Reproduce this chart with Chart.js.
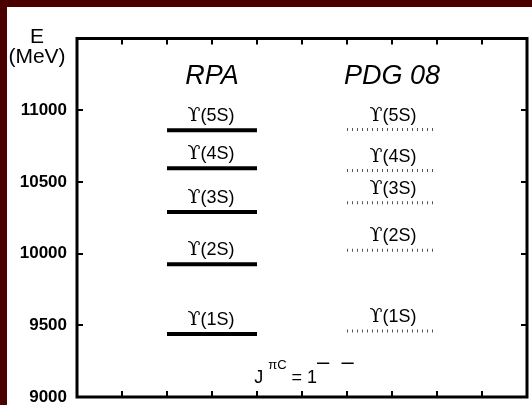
<!DOCTYPE html>
<html>
<head>
<meta charset="utf-8">
<script src="https://cdn.jsdelivr.net/npm/chart.js@4.4.1/dist/chart.umd.min.js"></script>
<style>
  html, body { margin: 0; padding: 0; width: 532px; height: 405px; overflow: hidden; background: #4b0000; }
  #wrap { position: absolute; left: 7px; top: 7px; width: 525px; height: 398px; background: #fff; }
  canvas { display: block; }
</style>
</head>
<body>
<div id="wrap"><canvas id="levels" width="525" height="398"></canvas></div>
<script>
// Upsilon (b b-bar) vector states, energies in MeV
const states = ['1S', '2S', '3S', '4S', '5S'];
const rpaMeV = [9440, 9925, 10290, 10595, 10860];
const pdgMeV = [9460, 10023, 10355, 10579, 10865];
const energyTicks = [9000, 9500, 10000, 10500, 11000];
const columnNames = ['RPA', 'PDG 08'];

const SANS = "'Liberation Sans', Arial, Helvetica, sans-serif";
const SERIF = "'DejaVu Serif', 'Liberation Serif', serif";

// each column spans two units of the x scale
const rpaSpan = [2, 4];
const pdgSpan = [6, 8];

const level = (e, span, style) => Object.assign({
  data: [{ x: span[0], y: e }, { x: span[1], y: e }],
  pointRadius: 0,
  borderCapStyle: 'butt',
  fill: false
}, style);

const datasets = [
  ...rpaMeV.map(e => level(e, rpaSpan, { borderColor: '#000', borderWidth: 4 })),
  ...pdgMeV.map(e => level(e, pdgSpan, { borderColor: '#555', borderWidth: 3, borderDash: [1, 4] }))
];

// "ϒ(nS)" with a serif upsilon and sans-serif bracket part
function upsilonLabel(ctx, cx, baseY, st) {
  const head = 'ϒ';
  const tail = '(' + st + ')';
  const fHead = '19px ' + SERIF;
  const fTail = '18px ' + SANS;
  ctx.font = fHead;
  const w1 = ctx.measureText(head).width;
  ctx.font = fTail;
  const w2 = ctx.measureText(tail).width;
  const x0 = cx - (w1 + w2) / 2;
  ctx.font = fHead;
  ctx.fillText(head, x0, baseY);
  ctx.font = fTail;
  ctx.fillText(tail, x0 + w1, baseY);
}

const decor = {
  id: 'decor',
  afterDatasetsDraw(chart) {
    const { ctx, chartArea: a, scales: { x, y } } = chart;
    ctx.save();
    ctx.fillStyle = '#000';
    ctx.strokeStyle = '#000';

    // inward ticks on all four sides
    ctx.lineWidth = 2;
    ctx.beginPath();
    for (let v = x.min + 1; v < x.max; v++) {
      const px = Math.round(x.getPixelForValue(v));
      ctx.moveTo(px, a.top); ctx.lineTo(px, a.top + 6);
      ctx.moveTo(px, a.bottom); ctx.lineTo(px, a.bottom - 6);
    }
    energyTicks.forEach(v => {
      const py = Math.round(y.getPixelForValue(v));
      ctx.moveTo(a.left, py); ctx.lineTo(a.left + 6, py);
      ctx.moveTo(a.right, py); ctx.lineTo(a.right - 6, py);
    });
    ctx.stroke();

    // frame
    ctx.lineWidth = 3;
    ctx.strokeRect(a.left, a.top, a.width, a.height);

    // column headings
    ctx.textAlign = 'left';
    ctx.textBaseline = 'alphabetic';
    ctx.font = 'italic 27px ' + SANS;
    [rpaSpan, pdgSpan].forEach((span, i) => {
      const cx = x.getPixelForValue((span[0] + span[1]) / 2);
      const w = ctx.measureText(columnNames[i]).width;
      ctx.fillText(columnNames[i], cx - w / 2, a.top + 45);
    });

    // state labels above each level
    states.forEach((st, i) => {
      upsilonLabel(ctx, x.getPixelForValue(3) - 1, y.getPixelForValue(rpaMeV[i]) - 9, st);
      upsilonLabel(ctx, x.getPixelForValue(7) + 1, y.getPixelForValue(pdgMeV[i]) - 9, st);
    });

    // axis title
    ctx.textAlign = 'center';
    ctx.font = '21px ' + SANS;
    ctx.fillText('E', 30, 36);
    ctx.fillText('(MeV)', 30, 56);

    // quantum numbers: J^{πC} = 1^{--}
    const parts = [
      { t: 'J ', f: '18px ' + SANS, dy: 0 },
      { t: 'πC', f: '13px ' + SANS, dy: -14 },
      { t: ' = 1', f: '18px ' + SANS, dy: 0 },
      { t: '–  –', f: '22px ' + SANS, dy: -14 }
    ];
    let total = 0;
    parts.forEach(p => { ctx.font = p.f; p.w = ctx.measureText(p.t).width; total += p.w; });
    let px = x.getPixelForValue(5) + 2 - total / 2;
    const base = a.bottom - 14;
    ctx.textAlign = 'left';
    parts.forEach(p => {
      ctx.font = p.f;
      ctx.fillText(p.t, px, base + p.dy);
      px += p.w;
    });

    ctx.restore();
  }
};

new Chart(document.getElementById('levels'), {
  type: 'line',
  data: { datasets },
  options: {
    responsive: false,
    devicePixelRatio: 1,
    animation: false,
    layout: { padding: { top: 31.5, right: 5, bottom: 8, left: 0 } },
    plugins: { legend: { display: false }, tooltip: { enabled: false } },
    scales: {
      x: { type: 'linear', min: 0, max: 10, display: false },
      y: {
        type: 'linear',
        min: 9000,
        max: 11500,
        afterBuildTicks: s => { s.ticks = energyTicks.map(v => ({ value: v })); },
        afterFit: s => { s.width = 70; s.paddingTop = 0; s.paddingBottom = 0; },
        grid: { display: false, drawTicks: false },
        border: { display: false },
        ticks: {
          padding: 10,
          color: '#000',
          font: { family: SANS, size: 17, weight: 'bold' },
          callback: v => String(v)
        }
      }
    }
  },
  plugins: [decor]
});
</script>
</body>
</html>
